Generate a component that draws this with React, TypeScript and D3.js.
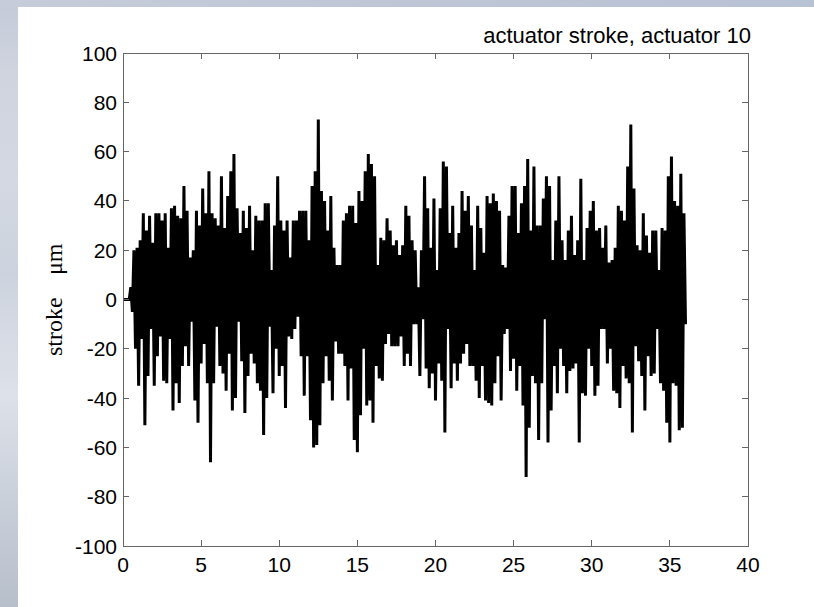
import React from 'react';
import * as d3 from 'd3';

const xTicks = [0, 5, 10, 15, 20, 25, 30, 35, 40];
const yTicks = [-100, -80, -60, -40, -20, 0, 20, 40, 60, 80, 100];
const title = 'actuator stroke, actuator 10';
const yLabelWord = 'stroke';
const yLabelUnit = 'μm';

// quiet start of the trace, t = 0.1 i
const leadIn = [0, 0, 0, 0, 0];
// local maxima of the trace, t = 0.5 + 0.2 i
const upperPeaks = [
  5, 20, 21, 24, 35, 28, 34, 23, 35, 35, 32, 35, 21, 37, 38, 34, 33, 46, 36, 17,
  20, 36, 30, 45, 35, 52, 35, 33, 30, 50, 29, 42, 52, 59, 37, 27, 36, 29, 38, 20,
  34, 32, 32,
  39, 39, 12, 30, 50, 32, 28, 32, 17, 32, 32, 36, 36, 36, 24, 46, 52, 73, 44, 40,
  28, 42, 21, 14, 14, 32, 35, 38, 38, 31, 44, 40, 52, 59, 55, 50, 14, 25, 24, 33,
  28, 22, 24, 18, 22, 38,
  34, 24, 20, 5, 20, 50, 37, 21, 41, 12, 37, 56, 54, 27, 38, 21, 27, 44, 36, 42,
  30, 12, 38, 29, 19, 42, 39, 43, 40, 36, 14, 13, 34, 46, 46, 27, 39, 46, 57, 28,
  54, 30, 30, 41, 50,
  46, 16, 32, 50, 24, 16, 28, 34, 18, 24, 49, 16, 29, 36, 40, 28, 29, 21, 30, 15,
  16, 21, 38, 36, 32, 54, 71, 45, 22, 20, 35, 26, 19, 28, 28, 12, 29, 28, 50, 58,
  40, 38, 51, 35,
];
// local minima of the trace, t = 0.6 + 0.2 i
const lowerPeaks = [
  -5, -20, -35, -16, -51, -31, -12, -35, -23, -15, -33, -34, -16, -45, -34, -42, -27, -19, -27, -9,
  -41, -50, -26, -18, -34, -66, -34, -11, -27, -30, -37, -22, -45, -40, -9, -25, -46, -31, -22, -26,
  -34, -37, -55,
  -40, -11, -38, -20, -31, -27, -44, -15, -16, -12, -7, -23, -39, -23, -49, -60, -59, -51, -34, -23,
  -33, -41, -17, -22, -22, -27, -41, -28, -57, -62, -47, -20, -43, -41, -50, -27, -32, -33, -18, -14,
  -19, -19, -19, -15, -27, -22,
  -27, -10, -10, -31, -8, -28, -36, -30, -41, -26, -33, -54, -12, -36, -26, -33, -26, -22, -18, -27,
  -27, -33, -40, -27, -41, -42, -43, -34, -23, -41, -14, -12, -29, -24, -37, -27, -43, -72, -52, -31,
  -34, -57, -34, -8, -58,
  -45, -27, -38, -20, -27, -38, -29, -28, -26, -58, -38, -39, -20, -27, -39, -35, -12, -12, -26, -20,
  -37, -38, -44, -27, -32, -34, -54, -19, -25, -31, -45, -23, -31, -30, -12, -34, -37, -50, -58, -34,
  -35, -53, -52, -10,
];

const W = 814;
const H = 607;
const PL = 123, PR = 748, PT = 53, PB = 546;
const sans = '"Liberation Sans", Arial, Helvetica, sans-serif';
const serif = '"Liberation Serif", "Times New Roman", serif';
const axisColor = '#666666';

export default function App() {
  const x = d3.scaleLinear().domain([0, 40]).range([PL, PR]);
  const y = d3.scaleLinear().domain([-100, 100]).range([PB, PT]);

  const pts: [number, number][] = [];
  leadIn.forEach((v, i) => pts.push([i * 0.1, v]));
  upperPeaks.forEach((u, i) => {
    pts.push([0.5 + 0.2 * i, u]);
    if (i < lowerPeaks.length) pts.push([0.6 + 0.2 * i, lowerPeaks[i]]);
  });
  const line = d3
    .line<[number, number]>()
    .x((d) => x(d[0]))
    .y((d) => y(d[1]));

  const tl = 6;

  return (
    <svg
      width={W}
      height={H}
      style={{ position: 'absolute', left: 0, top: 0, display: 'block' }}
    >
      <defs>
        <linearGradient id="topBand" x1="0" y1="0" x2="1" y2="0">
          <stop offset="0" stopColor="#c6ccd9" />
          <stop offset="0.5" stopColor="#bec6d6" />
          <stop offset="1" stopColor="#b8c2d5" />
        </linearGradient>
        <linearGradient id="leftBand" x1="0" y1="0" x2="0" y2="1">
          <stop offset="0" stopColor="#c4cad8" />
          <stop offset="0.12" stopColor="#cfd4df" />
          <stop offset="0.3" stopColor="#d3d8e2" />
          <stop offset="0.45" stopColor="#cdd3de" />
          <stop offset="0.65" stopColor="#dde1e9" />
          <stop offset="0.8" stopColor="#ccd2dc" />
          <stop offset="1" stopColor="#b7bfcb" />
        </linearGradient>
      </defs>
      <rect x={0} y={0} width={W} height={H} fill="#ffffff" />
      <rect x={0} y={0} width={18} height={H} fill="url(#leftBand)" />
      <rect x={0} y={0} width={W} height={7} fill="url(#topBand)" />

      {/* data */}
      <path
        d={line(pts) || ''}
        fill="none"
        stroke="#000"
        strokeWidth={3}
        strokeLinejoin="bevel"
      />

      {/* box */}
      <rect
        x={PL}
        y={PT}
        width={PR - PL}
        height={PB - PT}
        fill="none"
        stroke={axisColor}
        strokeWidth={1}
        shapeRendering="crispEdges"
      />
      {xTicks.slice(1, -1).map((t) => (
        <g key={'xt' + t} stroke={axisColor} shapeRendering="crispEdges">
          <line x1={x(t)} x2={x(t)} y1={PB} y2={PB - tl} />
          <line x1={x(t)} x2={x(t)} y1={PT} y2={PT + tl} />
        </g>
      ))}
      {yTicks.slice(1, -1).map((t) => (
        <g key={'yt' + t} stroke={axisColor} shapeRendering="crispEdges">
          <line x1={PL} x2={PL + tl} y1={y(t)} y2={y(t)} />
          <line x1={PR} x2={PR - tl} y1={y(t)} y2={y(t)} />
        </g>
      ))}

      {xTicks.map((t) => (
        <text
          key={'xl' + t}
          x={x(t)}
          y={572}
          textAnchor="middle"
          fontFamily={sans}
          fontSize={21}
          fill="#000"
        >
          {t}
        </text>
      ))}
      {yTicks.map((t) => (
        <text
          key={'yl' + t}
          x={117}
          y={y(t) + 7.5}
          textAnchor="end"
          fontFamily={sans}
          fontSize={21}
          fill="#000"
        >
          {t}
        </text>
      ))}

      <text
        x={751}
        y={43}
        textAnchor="end"
        fontFamily={sans}
        fontSize={22}
        fill="#000"
      >
        {title}
      </text>

      <text
        transform={`translate(62,356) rotate(-90)`}
        textAnchor="start"
        fontFamily={serif}
        fontSize={24}
        fill="#000"
      >
        {yLabelWord}
      </text>
      <text
        transform={`translate(62,275) rotate(-90)`}
        textAnchor="start"
        fontFamily={serif}
        fontSize={24}
        fill="#000"
      >
        {yLabelUnit}
      </text>
    </svg>
  );
}
